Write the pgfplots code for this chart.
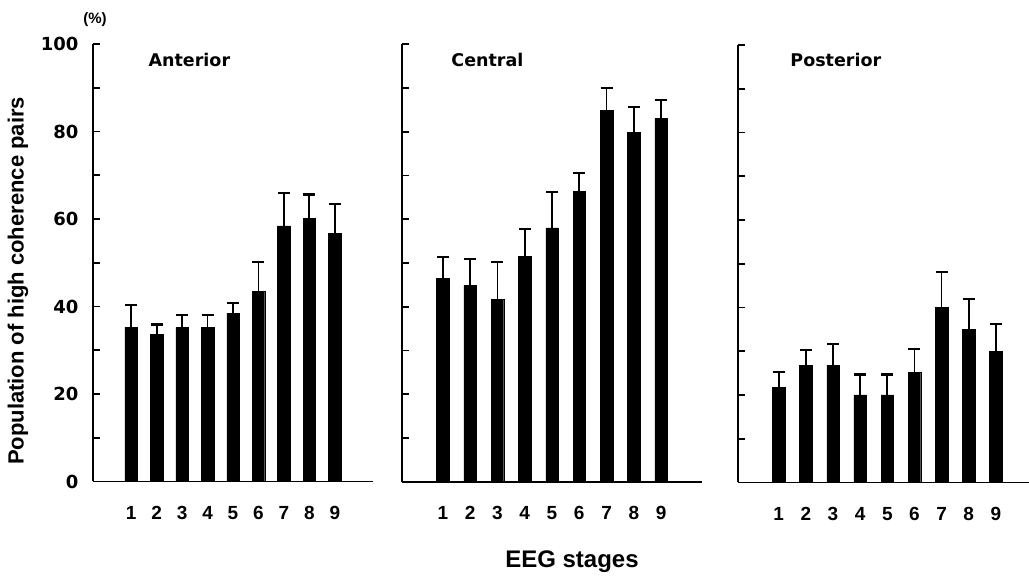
\documentclass[border=0pt]{standalone}
\usepackage{pgfplots}
\pgfplotsset{compat=1.18}
\usepackage{pgfplotstable}
\usepackage{fontspec}
\setmainfont{Liberation Sans}
\newfontfamily\dejavu{DejaVu Sans}

\pgfplotstableread{
x y e
1 35.2 5.1
2 33.6 2.3
3 35.2 2.9
4 35.2 2.9
5 38.4 2.4
6 43.4 6.8
7 58.4 7.5
8 60.1 5.5
9 56.7 6.7
}\anterior
\pgfplotstableread{
x y e
1 46.4 4.9
2 44.9 6.0
3 41.6 8.7
4 51.5 6.2
5 58.0 8.3
6 66.4 4.2
7 84.8 5.1
8 79.8 5.8
9 83.0 4.3
}\central
\pgfplotstableread{
x y e
1 21.8 3.4
2 26.8 3.5
3 26.8 4.9
4 20.0 4.7
5 20.0 4.7
6 25.1 5.4
7 40.0 8.1
8 35.0 7.0
9 30.0 6.3
}\posterior

\pgfplotsset{
  panel/.style={
    scale only axis,
    anchor=south west,
    height=437.5pt,
    ymin=0, ymax=100,
    xmin=-0.5,
    axis x line=bottom, axis y line=left,
    axis line style={-, line width=1.8pt, black},
    ytick={0,10,...,100},
    ytick align=inside,
    major tick length=6.5pt,
    ytick style={line width=1.8pt, black},
    xtick={1,2,3,4,5,6,7,8,9},
    xticklabels={1,2,3,4,5,6,7,8,9},
    xtick style={draw=none},
    xticklabel style={font=\bfseries\fontsize{19}{20}\selectfont, yshift=-15pt},
    yticklabel style={font=\dejavu\bfseries\fontsize{18}{20}\selectfont, xshift=-11pt},
    ybar, bar width=12.5pt,
  },
  bars/.style={
    fill=black, draw=black,
    error bars/.cd,
      y dir=plus, y explicit,
      error bar style={line width=1.8pt, black},
      error mark options={rotate=90, mark size=6pt, line width=2.2pt, black},
  },
}

\begin{document}
\begin{tikzpicture}
\useasboundingbox (0,0) rectangle (1029pt,580pt);

\begin{axis}[panel, at={(93pt,98.5pt)}, width=280pt, xmax=10.5,
  yticklabels={0,,20,,40,,60,,80,,100}]
  \addplot[bars] table[x=x, y=y, y error=e] {\anterior};
  \node[anchor=west, font=\dejavu\bfseries\fontsize{17.5}{20}\selectfont] at (rel axis cs:0.186,0.963) {Anterior};
\end{axis}

\begin{axis}[panel, at={(402pt,98.3pt)}, width=300pt, xmax=10.5,
  yticklabels={}]
  \addplot[bars] table[x=x, y=y, y error=e] {\central};
  \node[anchor=west, font=\dejavu\bfseries\fontsize{17.5}{20}\selectfont] at (rel axis cs:0.153,0.963) {Central};
\end{axis}

\begin{axis}[panel, at={(738pt,97.5pt)}, width=291pt, xmax=10.22,
  yticklabels={}]
  \addplot[bars] table[x=x, y=y, y error=e] {\posterior};
  \node[anchor=west, font=\dejavu\bfseries\fontsize{17.5}{20}\selectfont] at (rel axis cs:0.168,0.965) {Posterior};
\end{axis}

\node[rotate=90, font=\bfseries\fontsize{22}{24}\selectfont] at (18pt,299pt) {Population of high coherence pairs};
\node[font=\bfseries\fontsize{24}{26}\selectfont] at (572pt,18pt) {EEG stages};
\node[font=\bfseries\fontsize{15}{17}\selectfont] at (95pt,560pt) {(\%)};
\end{tikzpicture}
\end{document}
